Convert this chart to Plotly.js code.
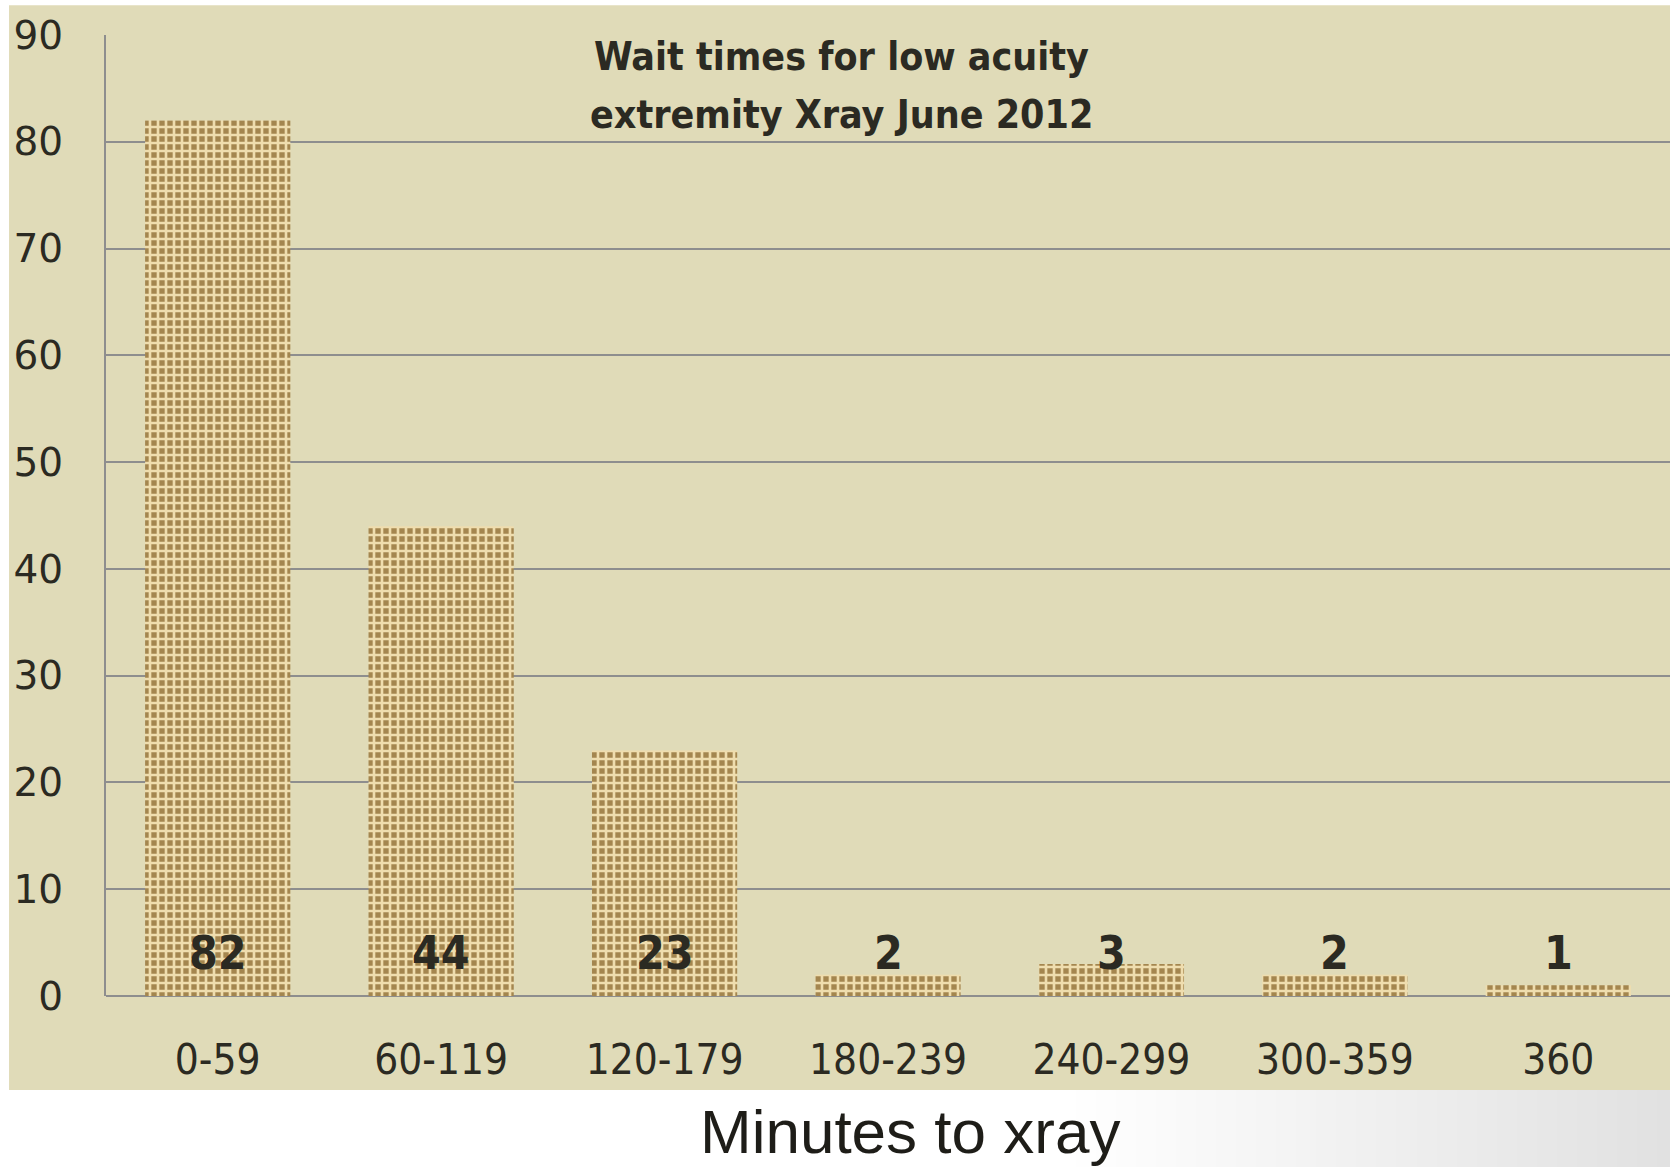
<!DOCTYPE html>
<html>
<head>
<meta charset="utf-8">
<script src="https://cdn.plot.ly/plotly-3.0.1.min.js"></script>
<style>html,body{margin:0;padding:0;background:#fff;}#chart{width:1670px;height:1167px;}</style>
</head>
<body>
<div id="chart"></div>
<script>
const categories = ["0-59", "60-119", "120-179", "180-239", "240-299", "300-359", "360"];
const counts = [82, 44, 23, 2, 3, 2, 1];
const yTicks = [0, 10, 20, 30, 40, 50, 60, 70, 80, 90];
const titleLines = ["Wait times for low acuity", "extremity Xray June 2012"];
const xTitle = "Minutes to xray";

const LABEL_Y = 4;
const textColor = "#2b2a22";
const beige = "#e0dbb8";
const narrow = "DejaVu Sans Condensed, Liberation Sans Narrow, Arial Narrow, sans-serif";

const bars = {
  type: "bar",
  x: categories,
  y: counts,
  width: 0.65,
  marker: {
    color: "#b59865",
    line: {width: 0},
    pattern: {shape: "+", fgcolor: "#efddae", bgcolor: "#a4864f", size: 8, solidity: 0.55, fillmode: "replace"}
  },
  hoverinfo: "x+y",
  showlegend: false
};

const annotations = categories.map((c, i) => ({
  x: i, y: LABEL_Y, xref: "x", yref: "y",
  text: "<b>" + counts[i] + "</b>",
  showarrow: false,
  font: {family: narrow, size: 46, color: textColor},
  xanchor: "center", yanchor: "middle"
}));

const titleY = [0.978, 0.9168];
titleLines.forEach((t, i) => annotations.push({
  x: 0.47, y: titleY[i], xref: "paper", yref: "paper",
  text: "<b>" + t + "</b>",
  showarrow: false,
  font: {family: narrow, size: 39, color: textColor},
  xanchor: "center", yanchor: "middle", align: "center"
}));

annotations.push({
  x: 0.514, y: -0.1415, xref: "paper", yref: "paper",
  text: xTitle,
  showarrow: false,
  font: {family: "Liberation Sans, Arial, sans-serif", size: 62, color: "#1e1d18"},
  xanchor: "center", yanchor: "middle"
});

const shapes = [{
  type: "rect", xref: "paper", yref: "paper", layer: "below",
  x0: -0.062, x1: 1.01, y0: -0.0978, y1: 1.031,
  fillcolor: beige, line: {width: 0}
}];
// soft grey shading of the slide background, bottom right
for (let k = 0; k < 30; k++) {
  shapes.push({
    type: "rect", xref: "paper", yref: "paper", layer: "below",
    x0: 0.62 + k * 0.0128, x1: 1.01, y0: -0.19, y1: -0.0978,
    fillcolor: "rgba(0,0,0,0.003)", line: {width: 0}
  });
}

const layout = {
  width: 1670, height: 1167,
  margin: {l: 106, r: 0, t: 35, b: 171, pad: 0},
  paper_bgcolor: "#ffffff",
  plot_bgcolor: beige,
  bargap: 0.35,
  xaxis: {
    type: "category",
    range: [-0.5, 6.5],
    showgrid: false,
    showline: false,
    zeroline: false,
    ticks: "",
    ticklabelstandoff: 35,
    tickfont: {family: narrow, size: 42, color: textColor}
  },
  yaxis: {
    range: [0, 90],
    tickvals: yTicks,
    ticktext: yTicks.map(String),
    showgrid: true,
    gridcolor: "#8e8e8e",
    gridwidth: 2,
    zeroline: true,
    zerolinecolor: "#8e8e8e",
    zerolinewidth: 2,
    showline: true,
    linecolor: "#8e8e8e",
    linewidth: 2,
    ticks: "",
    ticklabelstandoff: 33,
    tickfont: {family: "DejaVu Sans, Verdana, sans-serif", size: 39, color: textColor}
  },
  shapes: shapes,
  annotations: annotations
};

Plotly.newPlot("chart", [bars], layout, {displayModeBar: false, staticPlot: true});
</script>
</body>
</html>
